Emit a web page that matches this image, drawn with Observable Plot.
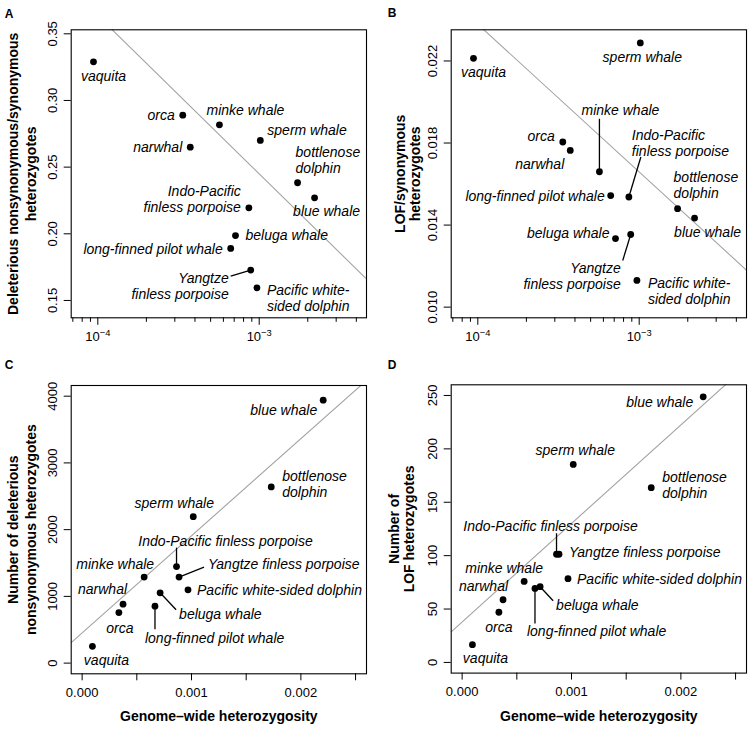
<!DOCTYPE html>
<html><head><meta charset="utf-8">
<script src="https://cdn.jsdelivr.net/npm/d3@7"></script>
<script src="https://cdn.jsdelivr.net/npm/@observablehq/plot@0.6"></script>
<style>
body{margin:0;background:#fff;}
#chart{position:relative;width:750px;height:729px;overflow:hidden;}
#chart svg{position:absolute;overflow:visible;}
</style></head><body><div id="chart"></div>
<script>
// ---------------- data ----------------
const species = ["vaquita","orca","narwhal","minke whale","long-finned pilot whale","beluga whale",
  "Indo-Pacific finless porpoise","Yangtze finless porpoise","Pacific white-sided dolphin",
  "sperm whale","bottlenose dolphin","blue whale"];
const heterozygosity = [0.000094,0.000336,0.000374,0.000567,0.000666,0.000713,0.000863,0.000886,0.000968,0.001016,0.001729,0.002204];
const delNonsynRatio = [0.329,0.289,0.265,0.2817,0.189,0.1987,0.2195,0.1728,0.1595,0.270,0.2383,0.227];
const lofSynRatio    = [0.02213,0.01805,0.01764,0.01660,0.01544,0.01334,0.01537,0.01354,0.01130,0.02288,0.01480,0.01434];
const delNonsynCount = [251,758,884,1290,853,1054,1446,1290,1099,2194,2640,3940];
const lofCount       = [16.6,47,58.7,75.9,69.3,70.9,101.3,101.3,78.4,185.4,163.7,248.7];

// regression lines (y = intercept + slope * x  or  * log10(x))
const fitA = {intercept:-0.1108, slope:-0.1186};
const fitB = {intercept:-0.00501, slope:-0.0072};
const fitC = {intercept:453, slope:1.455e6};
const fitD = {intercept:37.9, slope:92250};

// tick values
const xLogMajor = [1e-4, 1e-3];
const xLogMinor = [7e-5,8e-5,9e-5,2e-4,3e-4,4e-4,5e-4,6e-4,7e-4,8e-4,9e-4,2e-3,3e-3,4e-3];
const xLinTicks = [0,0.0005,0.001,0.0015,0.002,0.0025];
const xLinLabelled = [0,0.001,0.002];
const yTicksA = [0.15,0.20,0.25,0.30,0.35];
const yTicksB = [0.010,0.014,0.018,0.022];
const yTicksC = [0,1000,2000,3000,4000];
const yTicksD = [0,50,100,150,200,250];

const wrapped = {
  "Indo-Pacific finless porpoise":"Indo-Pacific\nfinless porpoise",
  "Yangtze finless porpoise":"Yangtze\nfinless porpoise",
  "Pacific white-sided dolphin":"Pacific white-\nsided dolphin",
  "bottlenose dolphin":"bottlenose\ndolphin"
};

// ---------------- label layout (pixel offsets) ----------------
// [dx, dy, anchor, wrap, leaderDx, leaderDy]
const layoutA = {
  "vaquita":[10,14,"middle"], "orca":[-8,0,"end"], "narwhal":[-8,0,"end"],
  "minke whale":[26,-15,"middle"], "long-finned pilot whale":[-8,0,"end"],
  "beluga whale":[10,-1,"start"], "Indo-Pacific finless porpoise":[-8,-8.5,"end",true],
  "Yangtze finless porpoise":[-22,15.5,"end",true,-20,6],
  "Pacific white-sided dolphin":[10,10.5,"start",true], "sperm whale":[7,-11,"start"],
  "bottlenose dolphin":[-2,-22.5,"start",true], "blue whale":[12,13,"middle"]
};
const layoutB = {
  "vaquita":[10,14,"middle"], "orca":[-8,-6,"end"], "narwhal":[-6,13,"end"],
  "minke whale":[21,-62,"middle",false,0,-53], "long-finned pilot whale":[-6,0,"end"],
  "beluga whale":[-6,-6,"end"], "Indo-Pacific finless porpoise":[3,-54.5,"start",true,12,-40],
  "Yangtze finless porpoise":[-10,41,"end",true,-8,26],
  "Pacific white-sided dolphin":[11,10,"start",true], "sperm whale":[2,14,"middle"],
  "bottlenose dolphin":[-4,-24,"start",true], "blue whale":[13,14,"middle"]
};
const layoutC = {
  "vaquita":[14,13,"middle"], "orca":[1,15,"middle"], "narwhal":[4,-15,"end"],
  "minke whale":[10,-13,"end"], "long-finned pilot whale":[-10,32,"start",false,0,23],
  "beluga whale":[19,21,"start",false,16,17], "Indo-Pacific finless porpoise":[49,-26,"middle",false,0,-19],
  "Yangtze finless porpoise":[29,-13,"start",false,25,-10],
  "Pacific white-sided dolphin":[9,0,"start"], "sperm whale":[-19,-14,"middle"],
  "bottlenose dolphin":[11,-3,"start",true], "blue whale":[-6,10,"end"]
};
const layoutD = {
  "vaquita":[13,13,"middle"], "orca":[0,15,"middle"], "narwhal":[5,-14,"end"],
  "minke whale":[-20,-14,"middle"], "long-finned pilot whale":[-8,42,"start",false,0,35],
  "beluga whale":[16,18,"start",false,13,14], "Indo-Pacific finless porpoise":[-6,-28,"middle",false,0,-21],
  "Yangtze finless porpoise":[10,-2,"start"],
  "Pacific white-sided dolphin":[9,0,"start"], "sperm whale":[2,-15,"middle"],
  "bottlenose dolphin":[11,-3,"start",true], "blue whale":[-10,5,"end"]
};

const FONT = "'Liberation Sans', Arial, Helvetica, sans-serif";
const xTitle = "Genome\u2013wide heterozygosity";

const panels = [
  {id:"A", left:0, top:0, width:375, height:355, margin:[29.3,9,37.7,70.7], xType:"log",
   xDomain:[10**-4.165, 10**-2.335], yDomain:[0.137,0.353], values:delNonsynRatio, fit:fitA,
   yTicks:yTicksA, yFormat:d3.format(".2f"), layout:layoutA,
   yTitle:["Deleterious nonsynonymous/synonymous","heterozygotes"], yTitleDx:[-58,-40], letter:[-66.5,-20.5], xTitle:false},
  {id:"B", left:375, top:0, width:375, height:355, margin:[29.3,4,37.7,75.7], xType:"log",
   xDomain:[10**-4.165, 10**-2.335], yDomain:[0.00948,0.02352], values:lofSynRatio, fit:fitB,
   yTicks:yTicksB, yFormat:d3.format(".3f"), layout:layoutB,
   yTitle:["LOF/synonymous","heterozygotes"], yTitleDx:[-50.5,-36], letter:[-63.5,-21], xTitle:false},
  {id:"C", left:0, top:355, width:375, height:374, margin:[30,9,55.7,70.7], xType:"linear",
   xDomain:[-0.0001,0.0026], yDomain:[-160,4160], values:delNonsynCount, fit:fitC,
   yTicks:yTicksC, yFormat:d => String(d), layout:layoutC,
   yTitle:["Number of deleterious","nonsynonymous heterozygotes"], yTitleDx:[-58,-40], letter:[-66.5,-25], xTitle:true},
  {id:"D", left:375, top:355, width:375, height:374, margin:[29.3,4,56.4,75.7], xType:"linear",
   xDomain:[-0.0001,0.0026], yDomain:[-10,260], values:lofCount, fit:fitD,
   yTicks:yTicksD, yFormat:d => String(d), layout:layoutD,
   yTitle:["Number of","LOF heterozygotes"], yTitleDx:[-56.5,-41.5], letter:[-63.5,-24.5], xTitle:true}
];

function makePanel(p) {
  const [mt, mr, mb, ml] = p.margin;
  const xs = (p.xType === "log" ? d3.scaleLog() : d3.scaleLinear()).domain(p.xDomain).range([ml, p.width - mr]);
  const ys = d3.scaleLinear().domain(p.yDomain).range([p.height - mb, mt]);
  const rows = species.map((s, i) => ({name:s, x:heterozygosity[i], y:p.values[i]}));
  const fitRows = p.xDomain.map(x => ({x, y: p.fit.intercept + p.fit.slope * (p.xType === "log" ? Math.log10(x) : x)}));

  const labelMarks = rows.map(r => {
    const L = p.layout[r.name];
    const txt = L[3] ? wrapped[r.name] : r.name;
    return Plot.text([r], {x:"x", y:"y", text: () => txt, dx:L[0], dy:L[1], textAnchor:L[2],
      fontStyle:"italic", fontSize:14, lineHeight:1.15, fill:"black"});
  });
  const leaders = rows.filter(r => p.layout[r.name].length > 4).map(r => {
    const L = p.layout[r.name];
    return {x1:r.x, y1:r.y, x2: xs.invert(xs(r.x) + L[4]), y2: ys.invert(ys(r.y) + L[5])};
  });

  const xAxes = p.xType === "log" ? [
    Plot.axisX({ticks:xLogMinor, tickSize:4.5, tickFormat:() => "", label:null}),
    Plot.axisX({ticks:xLogMajor, tickSize:7.5, tickPadding:6, tickFormat:d => "10^" + Math.round(Math.log10(d)), label:null, fontSize:13})
  ] : [
    Plot.axisX({ticks:xLinTicks, tickSize:7, tickPadding:7, label:null, fontSize:13,
      tickFormat:d => xLinLabelled.includes(d) ? d.toFixed(3) : ""})
  ];

  const marks = [
    Plot.line(fitRows, {x:"x", y:"y", stroke:"#a3a3a3", strokeWidth:1.1, clip:true}),
    Plot.frame({stroke:"black", strokeWidth:1.1}),
    Plot.axisY({ticks:p.yTicks, tickFormat:p.yFormat, tickRotate:-90, tickSize:7, tickPadding:7, label:null, fontSize:13}),
    ...xAxes,
    Plot.link(leaders, {x1:"x1", y1:"y1", x2:"x2", y2:"y2", stroke:"black", strokeWidth:1.3}),
    Plot.dot(rows, {x:"x", y:"y", r:3.4, fill:"black", stroke:"none"}),
    ...labelMarks,
    Plot.text([p.yTitle[0]], {frameAnchor:"left", text:d => d, rotate:-90, dx:p.yTitleDx[0], fontWeight:"bold", fontSize:14, textAnchor:"middle"}),
    Plot.text([p.yTitle[1]], {frameAnchor:"left", text:d => d, rotate:-90, dx:p.yTitleDx[1], fontWeight:"bold", fontSize:14, textAnchor:"middle"}),
    Plot.text([p.id], {frameAnchor:"top-left", text:d => d, dx:p.letter[0], dy:p.letter[1], textAnchor:"start", fontWeight:"bold", fontSize:12})
  ];
  if (p.xTitle) marks.push(Plot.text([xTitle], {frameAnchor:"bottom", text:d => d, dy:47.5, fontWeight:"bold", fontSize:14}));

  const svg = Plot.plot({
    width:p.width, height:p.height,
    marginTop:mt, marginRight:mr, marginBottom:mb, marginLeft:ml,
    x:{type:p.xType, domain:p.xDomain},
    y:{type:"linear", domain:p.yDomain},
    style:{fontFamily:FONT, fontSize:"13px", color:"black", background:"transparent", overflow:"visible"},
    marks
  });
  // superscript exponents for log tick labels
  svg.querySelectorAll("text").forEach(t => {
    const m = t.textContent.match(/^10\^(-?\d+)$/);
    if (m) {
      t.textContent = "10";
      const ts = document.createElementNS("http://www.w3.org/2000/svg", "tspan");
      ts.setAttribute("dy", "-0.45em");
      ts.setAttribute("font-size", "0.72em");
      ts.textContent = m[1].replace("-", "\u2212");
      t.appendChild(ts);
    }
  });
  svg.style.left = p.left + "px";
  svg.style.top = p.top + "px";
  return svg;
}

const chart = document.getElementById("chart");
panels.forEach(p => chart.appendChild(makePanel(p)));
</script>
</body></html>
